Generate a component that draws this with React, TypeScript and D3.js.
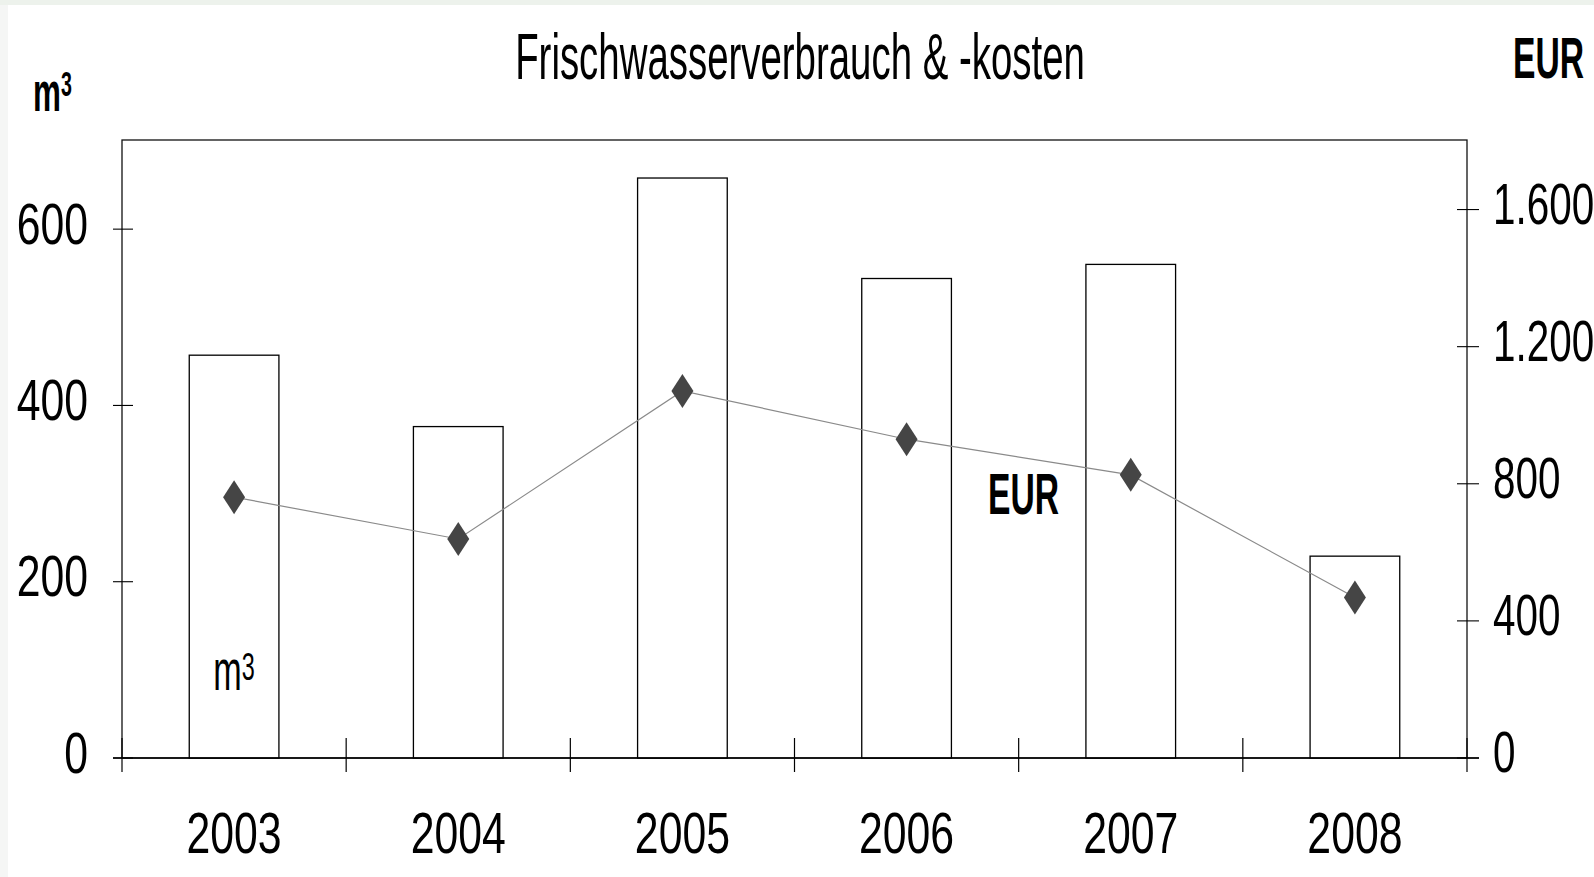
import { useEffect, useRef } from "react";
import * as d3 from "d3";

// values
const years = ["2003", "2004", "2005", "2006", "2007", "2008"];
const volumeM3 = [457, 376, 658, 544, 560, 229];
const costEUR = [761, 639, 1071, 930, 826, 468];
const leftTicks = [0, 200, 400, 600];
const rightTicks = [0, 400, 800, 1200, 1600];

const W = 1594;
const H = 877;
const FONT = "'Liberation Sans', Arial, sans-serif";

export default function App() {
  const svgRef = useRef<SVGSVGElement | null>(null);

  useEffect(() => {
    const svg = d3.select(svgRef.current);
    svg.selectAll("*").remove();

    // page frame: pale strips top/left, white panel
    svg.append("rect").attr("width", W).attr("height", H).attr("fill", "#f5f6f5");
    svg.append("rect").attr("width", W).attr("height", 5).attr("fill", "#edf2ec");
    svg.append("rect").attr("x", 8).attr("y", 5).attr("width", W - 8).attr("height", H - 5).attr("fill", "#fff");

    const plot = { left: 122, right: 1467, top: 140, bottom: 758 };

    const x = d3.scaleBand<string>().domain(years).range([plot.left, plot.right]);
    const yL = d3.scaleLinear().domain([0, 700]).range([plot.bottom, plot.top + 1]);
    const yR = d3.scaleLinear().domain([0, 1800]).range([plot.bottom, plot.top + 1]);

    // condensed text: Arial metrics squeezed horizontally
    function label(str: string, tx: number, ty: number, size: number, sx: number, anchor = "start", weight = "normal") {
      return svg.append("text")
        .attr("transform", `translate(${tx},${ty}) scale(${sx},1)`)
        .attr("text-anchor", anchor)
        .attr("font-family", FONT)
        .attr("font-size", size)
        .attr("font-weight", weight)
        .attr("fill", "#000")
        .text(str);
    }

    // "m" with a big raised 3
    function cubic(tx: number, ty: number, size: number, sx: number, anchor: string, weight: string, supSize: number, lift: number) {
      const t = label("m", tx, ty, size, sx, anchor, weight);
      t.append("tspan").attr("font-size", supSize).attr("dy", -lift).text("3");
    }

    // frame
    svg.append("rect")
      .attr("x", plot.left).attr("y", plot.top)
      .attr("width", plot.right - plot.left).attr("height", plot.bottom - plot.top)
      .attr("fill", "none").attr("stroke", "#111").attr("stroke-width", 1.3);

    // bars
    const barW = x.bandwidth() * 0.4;
    svg.append("g").selectAll("rect")
      .data(years)
      .join("rect")
      .attr("x", (d) => x(d)! + x.bandwidth() / 2 - barW / 2)
      .attr("y", (_, i) => yL(volumeM3[i]))
      .attr("width", barW)
      .attr("height", (_, i) => plot.bottom - yL(volumeM3[i]))
      .attr("fill", "#fff")
      .attr("stroke", "#000")
      .attr("stroke-width", 1.3);

    // x axis line, extends past the frame like the ticks
    svg.append("line")
      .attr("x1", 113).attr("x2", 1479).attr("y1", plot.bottom).attr("y2", plot.bottom)
      .attr("stroke", "#000").attr("stroke-width", 1.3);

    // category separators
    const bounds = years.map((d) => x(d)!).concat([plot.right]);
    svg.append("g").selectAll("line")
      .data(bounds)
      .join("line")
      .attr("x1", (d) => d).attr("x2", (d) => d)
      .attr("y1", plot.bottom - 20).attr("y2", plot.bottom + 14)
      .attr("stroke", "#000").attr("stroke-width", 1.2);

    // left ticks
    svg.append("g").selectAll("line")
      .data(leftTicks)
      .join("line")
      .attr("x1", plot.left - 9).attr("x2", plot.left + 11)
      .attr("y1", (d) => yL(d)).attr("y2", (d) => yL(d))
      .attr("stroke", "#000").attr("stroke-width", 1.1);
    leftTicks.forEach((t) => label(String(t), 88, yL(t) + 14.5, 57, 0.75, "end"));

    // right ticks
    svg.append("g").selectAll("line")
      .data(rightTicks)
      .join("line")
      .attr("x1", plot.right - 10).attr("x2", plot.right + 12)
      .attr("y1", (d) => yR(d)).attr("y2", (d) => yR(d))
      .attr("stroke", "#000").attr("stroke-width", 1.1);
    const fmt = (v: number) => v.toLocaleString("de-DE");
    rightTicks.forEach((t) => label(fmt(t), 1493, yR(t) + 14, 57, 0.71, "start"));

    // year labels
    years.forEach((yr) => label(yr, x(yr)! + x.bandwidth() / 2, 853, 57, 0.75, "middle"));

    // cost line + diamonds
    const pts = years.map((yr, i) => [x(yr)! + x.bandwidth() / 2, yR(costEUR[i])] as [number, number]);
    svg.append("path")
      .attr("d", d3.line()(pts))
      .attr("fill", "none")
      .attr("stroke", "#8a8a8a")
      .attr("stroke-width", 1.2);
    svg.append("g").selectAll("path")
      .data(pts)
      .join("path")
      .attr("d", ([cx, cy]) => `M${cx},${cy - 17}L${cx + 11},${cy}L${cx},${cy + 17}L${cx - 11},${cy}Z`)
      .attr("fill", "#454545");

    // titles and unit labels
    label("Frischwasserverbrauch & -kosten", 800, 79, 64, 0.6, "middle");
    cubic(33, 111, 56, 0.56, "start", "bold", 35, 15);
    label("EUR", 1513, 78, 58, 0.58, "start", "bold");
    label("EUR", 988, 514, 58, 0.58, "start", "bold");
    cubic(x("2003")! + x.bandwidth() / 2, 690, 57, 0.6, "middle", "normal", 39, 10);
  }, []);

  return (
    <svg
      ref={svgRef}
      width={W}
      height={H}
      style={{ position: "absolute", left: 0, top: 0, display: "block" }}
    />
  );
}
